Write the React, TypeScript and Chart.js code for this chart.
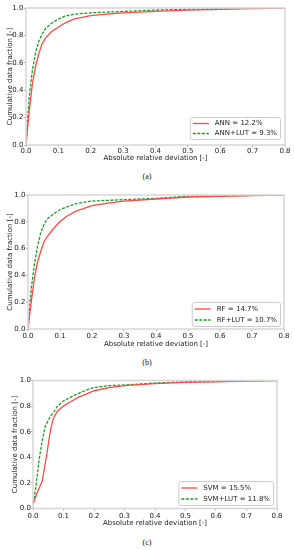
import React, { useEffect, useRef } from "react";
import { Chart, registerables } from "chart.js";

Chart.register(...registerables);

// ---- Data ----
const xTicks = [0, 0.1, 0.2, 0.3, 0.4, 0.5, 0.6, 0.7, 0.8];
const yTicks = [0, 0.2, 0.4, 0.6, 0.8, 1.0];

const annX = [0, 0.01, 0.02, 0.03, 0.04, 0.05, 0.06, 0.08, 0.1, 0.12, 0.15, 0.2, 0.25, 0.3, 0.4, 0.5, 0.6, 0.7, 0.8];
const annY = [0, 0.25, 0.45, 0.58, 0.67, 0.74, 0.78, 0.83, 0.86, 0.89, 0.92, 0.945, 0.955, 0.965, 0.975, 0.985, 0.99, 0.995, 1.0];
const annLutX = [0, 0.01, 0.02, 0.03, 0.04, 0.05, 0.06, 0.08, 0.1, 0.12, 0.15, 0.2, 0.3, 0.4, 0.5, 0.6, 0.8];
const annLutY = [0, 0.35, 0.55, 0.68, 0.76, 0.81, 0.85, 0.89, 0.92, 0.94, 0.955, 0.965, 0.975, 0.985, 0.99, 0.995, 1.0];

const rfX = [0, 0.01, 0.02, 0.03, 0.04, 0.05, 0.06, 0.08, 0.1, 0.12, 0.15, 0.2, 0.25, 0.3, 0.4, 0.5, 0.6, 0.7, 0.8];
const rfY = [0, 0.2, 0.38, 0.5, 0.58, 0.65, 0.69, 0.75, 0.8, 0.84, 0.88, 0.92, 0.94, 0.955, 0.97, 0.985, 0.99, 0.995, 1.0];
const rfLutX = [0, 0.01, 0.02, 0.03, 0.04, 0.05, 0.06, 0.08, 0.1, 0.12, 0.15, 0.2, 0.3, 0.4, 0.5, 0.6, 0.8];
const rfLutY = [0, 0.3, 0.48, 0.62, 0.72, 0.78, 0.82, 0.86, 0.89, 0.91, 0.935, 0.955, 0.965, 0.975, 0.99, 0.993, 1.0];

const svmX = [0, 0.01, 0.02, 0.03, 0.035, 0.04, 0.045, 0.05, 0.055, 0.06, 0.065, 0.07, 0.08, 0.1, 0.12, 0.15, 0.18, 0.2, 0.25, 0.3, 0.4, 0.5, 0.6, 0.7, 0.8];
const svmY = [0.03, 0.1, 0.16, 0.21, 0.28, 0.35, 0.42, 0.5, 0.58, 0.64, 0.69, 0.72, 0.76, 0.8, 0.83, 0.87, 0.9, 0.92, 0.945, 0.96, 0.975, 0.985, 0.99, 0.995, 1.0];
const svmLutX = [0, 0.005, 0.01, 0.02, 0.03, 0.04, 0.05, 0.06, 0.07, 0.08, 0.1, 0.12, 0.14, 0.17, 0.2, 0.25, 0.3, 0.4, 0.5, 0.6, 0.8];
const svmLutY = [0.04, 0.1, 0.18, 0.38, 0.53, 0.64, 0.69, 0.73, 0.76, 0.8, 0.84, 0.865, 0.89, 0.92, 0.945, 0.96, 0.965, 0.98, 0.99, 0.993, 1.0];

const panelLabels = ["(a)", "(b)", "(c)"];
const seriesNames = [
  ["ANN = 12.2%", "ANN+LUT = 9.3%"],
  ["RF = 14.7%", "RF+LUT = 10.7%"],
  ["SVM = 15.5%", "SVM+LUT = 11.8%"],
];
const xTitle = "Absolute relative deviation [-]";
const yTitle = "Cumulative data fraction [-]";

const RED = "#ff4a4a";
const GREEN = "#1f9a2a";
const FONT = "'DejaVu Sans', sans-serif";
const TEXT = "#1a1a1a";
const TICK_COLOR = "#9a9a9a";

type PanelCfg = {
  top: number;
  height: number;
  padTop: number;
  padRight: number;
  yWidth: number;
  xHeight: number;
  yTitlePad: number;
  tickPadX: number;
  tickPadY: number;
  legRight: number;
  legBottom: number;
  rowGap: number;
  series: [number[], number[], number[], number[]];
  names: string[];
  captionTop: number;
  caption: string;
};

const panels: PanelCfg[] = [
  {
    top: 0, height: 162, padTop: 8, padRight: 9, yWidth: 26, xHeight: 17,
    yTitlePad: 5.5, tickPadX: 0, tickPadY: 0.5, legRight: 5, legBottom: 6, rowGap: 10,
    series: [annX, annY, annLutX, annLutY], names: seriesNames[0], captionTop: 171, caption: panelLabels[0],
  },
  {
    top: 180, height: 168, padTop: 15, padRight: 10, yWidth: 28, xHeight: 19,
    yTitlePad: 5.5, tickPadX: 1, tickPadY: 0.5, legRight: 4, legBottom: 3, rowGap: 11,
    series: [rfX, rfY, rfLutX, rfLutY], names: seriesNames[1], captionTop: 357, caption: panelLabels[1],
  },
  {
    top: 360, height: 167, padTop: 20.5, padRight: 17, yWidth: 33, xHeight: 18.5,
    yTitlePad: 10.5, tickPadX: 1, tickPadY: 0, legRight: 4, legBottom: 3.5, rowGap: 11,
    series: [svmX, svmY, svmLutX, svmLutY], names: seriesNames[2], captionTop: 537, caption: panelLabels[2],
  },
];

function pts(xs: number[], ys: number[]) {
  return xs.map((x, i) => ({ x, y: ys[i] }));
}

function Panel({ cfg }: { cfg: PanelCfg }) {
  const ref = useRef<HTMLCanvasElement | null>(null);
  useEffect(() => {
    if (!ref.current) return;
    const framePlugin = {
      id: "frameLegend",
      afterDatasetsDraw(chart: any) {
        const { ctx, chartArea } = chart;
        ctx.save();
        ctx.strokeStyle = "#d6d6d6";
        ctx.lineWidth = 1.5;
        ctx.strokeRect(chartArea.left, chartArea.top, chartArea.right - chartArea.left, chartArea.bottom - chartArea.top);
        // legend
        ctx.font = `7px ${FONT}`;
        const names = chart.data.datasets.map((d: any) => d.label);
        const tw = Math.max(...names.map((n: string) => ctx.measureText(n).width));
        const lineLen = 16;
        const w = 3 + lineLen + 6 + tw + 3;
        const h = cfg.rowGap * 2 + 2;
        const bx = chartArea.right - cfg.legRight - w;
        const by = chartArea.bottom - cfg.legBottom - h;
        ctx.fillStyle = "rgba(255,255,255,0.85)";
        ctx.strokeStyle = "#cccccc";
        ctx.lineWidth = 1;
        ctx.beginPath();
        (ctx as any).roundRect ? (ctx as any).roundRect(bx + 0.5, by + 0.5, w, h, 2) : ctx.rect(bx + 0.5, by + 0.5, w, h);
        ctx.fill();
        ctx.stroke();
        chart.data.datasets.forEach((d: any, i: number) => {
          const cy = by + 1 + cfg.rowGap / 2 + i * cfg.rowGap + 0.5;
          ctx.strokeStyle = d.borderColor;
          ctx.lineWidth = d.borderWidth;
          ctx.setLineDash(d.borderDash || []);
          ctx.beginPath();
          ctx.moveTo(bx + 3, cy);
          ctx.lineTo(bx + 3 + lineLen, cy);
          ctx.stroke();
          ctx.setLineDash([]);
          ctx.fillStyle = TEXT;
          ctx.textBaseline = "middle";
          ctx.textAlign = "left";
          ctx.fillText(d.label, bx + 3 + lineLen + 6, cy);
        });
        ctx.restore();
      },
    };
    const [x1, y1, x2, y2] = cfg.series;
    const gridOpts = {
      display: true, drawOnChartArea: false, drawTicks: true, tickLength: 2,
      tickColor: TICK_COLOR, tickWidth: 0.8, color: TICK_COLOR,
    };
    const chart = new Chart(ref.current, {
      type: "scatter",
      data: {
        datasets: [
          {
            label: cfg.names[0], data: pts(x1, y1), showLine: true, borderColor: RED,
            backgroundColor: RED, borderWidth: 1.3, pointRadius: 0, tension: 0,
          },
          {
            label: cfg.names[1], data: pts(x2, y2), showLine: true, borderColor: GREEN,
            backgroundColor: GREEN, borderWidth: 1.3, borderDash: [3, 1.5], pointRadius: 0, tension: 0,
          },
        ],
      },
      options: {
        responsive: false,
        animation: false,
        events: [],
        layout: { padding: { top: cfg.padTop, right: cfg.padRight, left: 0, bottom: 0 } },
        plugins: { legend: { display: false }, tooltip: { enabled: false } },
        scales: {
          x: {
            type: "linear", min: 0, max: 0.8,
            afterFit: (s: any) => { s.height = cfg.xHeight; },
            afterBuildTicks: (s: any) => { s.ticks = xTicks.map((v) => ({ value: v })); },
            grid: gridOpts,
            border: { display: false },
            ticks: { font: { family: FONT, size: 7 }, color: TEXT, padding: cfg.tickPadX, maxRotation: 0,
              callback: (v: any) => Number(v).toFixed(1) },
            title: { display: true, text: xTitle, font: { family: FONT, size: 7 }, color: TEXT, padding: { top: 0, bottom: 0 } },
          },
          y: {
            type: "linear", min: 0, max: 1,
            afterFit: (s: any) => { s.width = cfg.yWidth; },
            afterBuildTicks: (s: any) => { s.ticks = yTicks.map((v) => ({ value: v })); },
            grid: gridOpts,
            border: { display: false },
            ticks: { font: { family: FONT, size: 7 }, color: TEXT, padding: cfg.tickPadY,
              callback: (v: any) => Number(v).toFixed(1) },
            title: { display: true, text: yTitle, font: { family: FONT, size: 7 }, color: TEXT, padding: { top: cfg.yTitlePad, bottom: 0 } },
          },
        },
      },
      plugins: [framePlugin],
    } as any);
    return () => chart.destroy();
  }, [cfg]);
  return (
    <>
      <canvas
        ref={ref}
        width={294}
        height={cfg.height}
        style={{ position: "absolute", left: 0, top: cfg.top, width: 294, height: cfg.height }}
      />
      <div
        style={{
          position: "absolute", left: 0, width: 294, top: cfg.captionTop, textAlign: "center",
          fontFamily: "'Liberation Serif', serif", fontSize: 8, lineHeight: "12px", color: "#111",
        }}
      >
        {cfg.caption}
      </div>
    </>
  );
}

export default function App() {
  return (
    <div style={{ position: "fixed", left: 0, top: 0, width: 294, height: 550, background: "#fff", overflow: "hidden" }}>
      {panels.map((p, i) => (
        <Panel key={i} cfg={p} />
      ))}
    </div>
  );
}
